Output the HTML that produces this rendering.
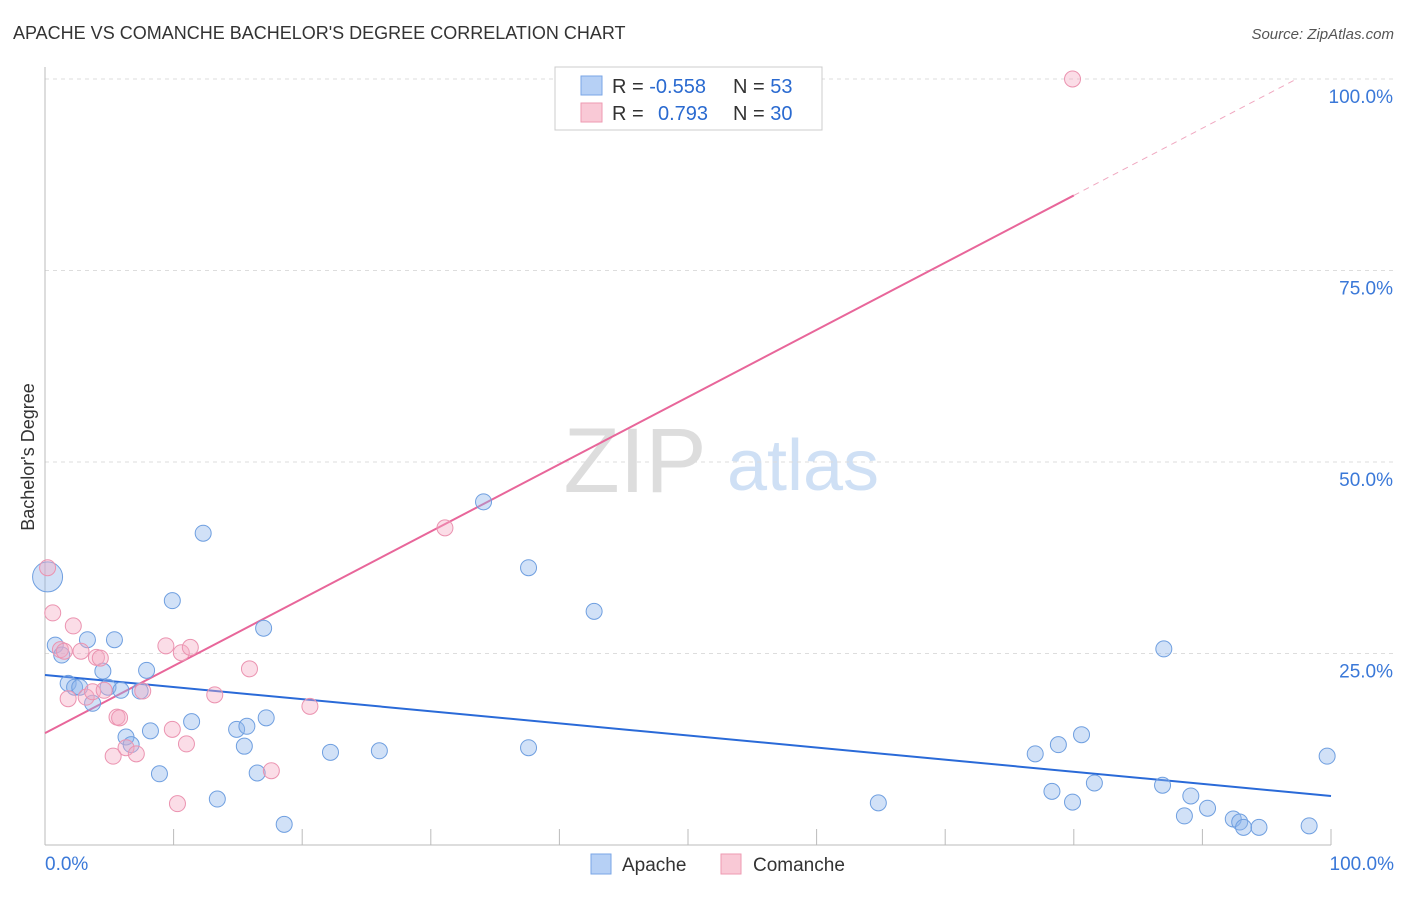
<!DOCTYPE html>
<html><head><meta charset="utf-8"><style>
body{margin:0;background:#fff;font-family:"Liberation Sans",sans-serif}
svg text{font-family:"Liberation Sans",sans-serif}
</style></head><body>
<svg id="chart" width="1406" height="892">
<text x="13" y="39" font-size="18" fill="#333">APACHE VS COMANCHE BACHELOR'S DEGREE CORRELATION CHART</text>
<text x="1394" y="39" font-size="15" fill="#555" text-anchor="end" font-style="italic">Source: ZipAtlas.com</text>
<text transform="translate(34,457) rotate(-90)" font-size="18" fill="#333" text-anchor="middle">Bachelor's Degree</text>
<g>
<text x="635" y="492" font-size="92" fill="#ddd" font-family="Liberation Serif,serif" text-anchor="middle">ZIP</text>
<text x="803" y="490" font-size="72" fill="#cfe0f5" text-anchor="middle">atlas</text>
</g>
<g id="grid"></g><g id="axes"></g><g id="lines"></g><g id="pts"></g>
<g>
<rect x="555" y="67" width="267" height="63" fill="#fff" stroke="#ccc"/>
<rect x="581" y="76" width="21" height="19" fill="#b6d0f5" stroke="#7aa6e6"/>
<rect x="581" y="103" width="21" height="19" fill="#f9c9d6" stroke="#ee9ab2"/>
<text x="612" y="93" font-size="20" fill="#333">R = <tspan fill="#2a6ad0">-0.558</tspan></text>
<text x="733" y="93" font-size="20" fill="#333">N = <tspan fill="#2a6ad0">53</tspan></text>
<text x="612" y="120" font-size="20" fill="#333">R = <tspan x="658" fill="#2a6ad0">0.793</tspan></text>
<text x="733" y="120" font-size="20" fill="#333">N = <tspan fill="#2a6ad0">30</tspan></text>
</g>
<g>
<rect x="591" y="854" width="20" height="20" fill="#b6d0f5" stroke="#7aa6e6"/>
<text x="622" y="871" font-size="19" fill="#333">Apache</text>
<rect x="721" y="854" width="20" height="20" fill="#f9c9d6" stroke="#ee9ab2"/>
<text x="753" y="871" font-size="19" fill="#333">Comanche</text>
</g>
</svg>
<script>
const apacheX=[0.2,0.8,1.3,1.8,2.3,2.7,3.3,3.7,4.5,4.9,5.4,5.9,6.3,6.7,7.4,7.9,8.2,8.9,9.9,11.4,12.3,13.4,14.9,15.5,15.7,16.5,17.0,17.2,18.6,22.2,26.0,34.1,37.6,37.6,42.7,64.8,77.0,78.3,78.8,79.9,80.6,81.6,86.9,87.0,88.6,89.1,90.4,92.4,92.9,93.2,94.4,98.3,99.7];
const apacheY=[35.0,26.1,24.8,21.1,20.6,20.6,26.8,18.5,22.7,20.6,26.8,20.2,14.1,13.1,20.1,22.8,14.9,9.3,31.9,16.1,40.7,6.0,15.1,12.9,15.5,9.4,28.3,16.6,2.7,12.1,12.3,44.8,12.7,36.2,30.5,5.5,11.9,7.0,13.1,5.6,14.4,8.1,7.8,25.6,3.8,6.4,4.8,3.4,3.0,2.3,2.3,2.5,11.6];
const comancheX=[0.2,0.6,1.2,1.5,2.2,1.8,2.8,3.2,3.7,4.0,4.3,4.6,5.6,5.8,5.3,6.3,7.1,7.6,9.4,9.9,10.3,10.6,11.0,11.3,13.2,15.9,17.6,20.6,31.1,79.9];
const comancheY=[36.2,30.3,25.5,25.3,28.6,19.1,25.3,19.3,20.0,24.5,24.4,20.2,16.7,16.6,11.6,12.7,11.9,20.1,26.0,15.1,5.4,25.1,13.2,25.8,19.6,23.0,9.7,18.1,41.4,100];
const yTicks=[25,50,75,100];
const yTickLabels=["25.0%","50.0%","75.0%","100.0%"];
const xTicks=[0,10,20,30,40,50,60,70,80,90,100];
const apacheTrend=[22.2,6.4];
const comancheTrend=[14.6,0.8775];
const NS="http://www.w3.org/2000/svg";
const sx=v=>45+v*12.86, sy=v=>845-v*7.66;
function mk(t,a,p){const e=document.createElementNS(NS,t);for(const k in a)e.setAttribute(k,a[k]);p.appendChild(e);return e;}
const grid=document.getElementById('grid'),axes=document.getElementById('axes'),lines=document.getElementById('lines'),pts=document.getElementById('pts');
yTicks.forEach((v,i)=>{
 const l=mk('line',{x1:45,x2:1394,y1:sy(v),y2:sy(v),stroke:'#ddd','stroke-dasharray':'4,4'},grid);
 
 
 const t=mk('text',{x:1393,y:sy(v)+24,'font-size':19,fill:'#3a78d8','text-anchor':'end'},axes);
 t.textContent=yTickLabels[i];
 
 
});
const ax=mk('line',{x1:45,x2:45,y1:67,y2:845,stroke:'#bbb'},axes);


const bx=mk('line',{x1:45,x2:1331,y1:845,y2:845,stroke:'#bbb'},axes);


xTicks.forEach(v=>{const t=mk('line',{x1:sx(v),x2:sx(v),y1:829,y2:845,stroke:'#bbb'},axes);
 
 });
const x0=mk('text',{x:45,y:870,'font-size':19,fill:'#3a78d8'},axes);x0.textContent='0.0%';


const x1=mk('text',{x:1394,y:870,'font-size':19,fill:'#3a78d8','text-anchor':'end'},axes);x1.textContent='100.0%';


const bl=mk('line',{x1:sx(0),y1:sy(apacheTrend[0]),x2:sx(100),y2:sy(apacheTrend[1]),stroke:'#2a6ad8','stroke-width':2},lines);


const pe=(100-comancheTrend[0])/comancheTrend[1];
const pl=mk('line',{x1:sx(0),y1:sy(comancheTrend[0]),x2:sx(80),y2:sy(comancheTrend[0]+80*comancheTrend[1]),stroke:'#e8669a','stroke-width':2},lines);


const pd=mk('line',{x1:sx(80),y1:sy(comancheTrend[0]+80*comancheTrend[1]),x2:sx(pe),y2:sy(100),stroke:'#f0a8c0','stroke-width':1,'stroke-dasharray':'6,5'},lines);


apacheX.forEach((x,i)=>{const c=mk('circle',{cx:sx(x),cy:sy(apacheY[i]),r:i===0?15:8,fill:'rgba(140,180,235,0.4)',stroke:'#6f9fe0','stroke-width':1},pts);
 
 });
comancheX.forEach((x,i)=>{const c=mk('circle',{cx:sx(x),cy:sy(comancheY[i]),r:8,fill:'rgba(245,170,195,0.4)',stroke:'#eb93b0','stroke-width':1},pts);
 
 });
</script>
</body></html>
